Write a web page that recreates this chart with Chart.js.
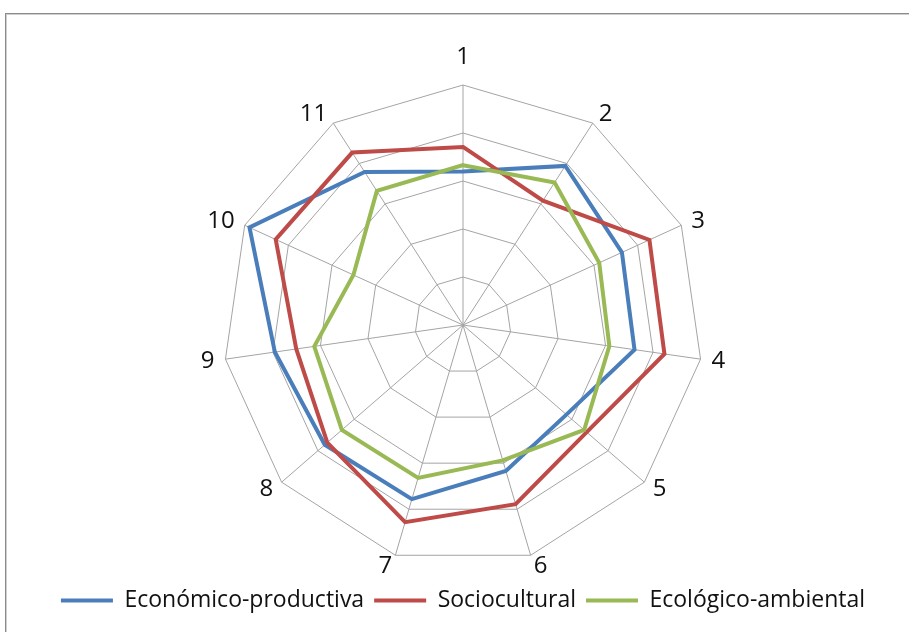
<!DOCTYPE html>
<html>
<head>
<meta charset="utf-8">
<title>Radar</title>
<script src="https://cdn.jsdelivr.net/npm/chart.js@4.4.1/dist/chart.umd.min.js"></script>
<style>
   html, body { margin: 0; padding: 0; background: #fff; overflow: hidden; }
   #wrap { position: relative; width: 909px; height: 632px; }
   #frame {
      position: absolute; left: 5px; top: 13px; width: 1200px; height: 1200px;
      border-top: 1px solid #8a8a8a; border-left: 1px solid #8a8a8a;
      box-shadow: inset 1px 1px 0 #d0d0d0;
   }
   #radar { position: absolute; left: 0; top: 0; }
</style>
</head>
<body>
<div id="wrap">
   <div id="frame"></div>
   <canvas id="radar" width="909" height="632"></canvas>
</div>
<script>
const axisLabels = ['1', '2', '3', '4', '5', '6', '7', '8', '9', '10', '11'];

const economico = [3.2, 3.94, 3.64, 3.61, 2.85, 3.17, 3.78, 3.81, 3.96, 4.89, 3.79];
const sociocultural = [3.71, 3.08, 4.27, 4.24, 3.41, 3.89, 4.28, 3.74, 3.51, 4.29, 4.27];
const ecologico = [3.33, 3.53, 3.12, 3.08, 3.34, 2.94, 3.32, 3.34, 3.13, 2.51, 3.32];

const scaleMin = 0;
const scaleMax = 5;

function series(label, data, color, order) {
   return {
      label: label,
      data: data,
      borderColor: color,
      backgroundColor: color,
      borderWidth: 4,
      pointRadius: 0,
      pointHoverRadius: 0,
      fill: false,
      tension: 0,
      order: order
   };
}

const context = document.getElementById('radar').getContext('2d');

new Chart(context, {
   type: 'radar',
   data: {
      labels: axisLabels,
      datasets: [
         series('Económico-productiva', economico, '#4a7ebb', 3),
         series('Sociocultural', sociocultural, '#be4b48', 2),
         series('Ecológico-ambiental', ecologico, '#98b954', 1)
      ]
   },
   options: {
      responsive: false,
      animation: false,
      devicePixelRatio: 1,
      layout: {
         padding: { left: 17, right: 0, top: 43, bottom: 10 }
      },
      elements: {
         line: { borderJoinStyle: 'miter' }
      },
      scales: {
         r: {
            min: scaleMin,
            max: scaleMax,
            ticks: { display: false, stepSize: 1 },
            grid: { color: '#a4a4a4', lineWidth: 1 },
            angleLines: { color: '#a4a4a4', lineWidth: 1 },
            pointLabels: {
               color: '#111',
               // zero line height keeps each number centred on its spoke
               font: { family: 'Open Sans', size: 24, lineHeight: 0 },
               padding: (ctx) => ctx.index === 0 ? 28 : 11
            }
         }
      },
      plugins: {
         tooltip: { enabled: false },
         legend: {
            position: 'bottom',
            labels: {
               usePointStyle: true,
               pointStyle: 'line',
               pointStyleWidth: 52,
               padding: 10,
               color: '#111',
               font: { family: 'Open Sans', size: 23 },
               // legend follows dataset order, not draw order
               sort: (a, b) => a.datasetIndex - b.datasetIndex
            }
         }
      }
   }
});
</script>
</body>
</html>
